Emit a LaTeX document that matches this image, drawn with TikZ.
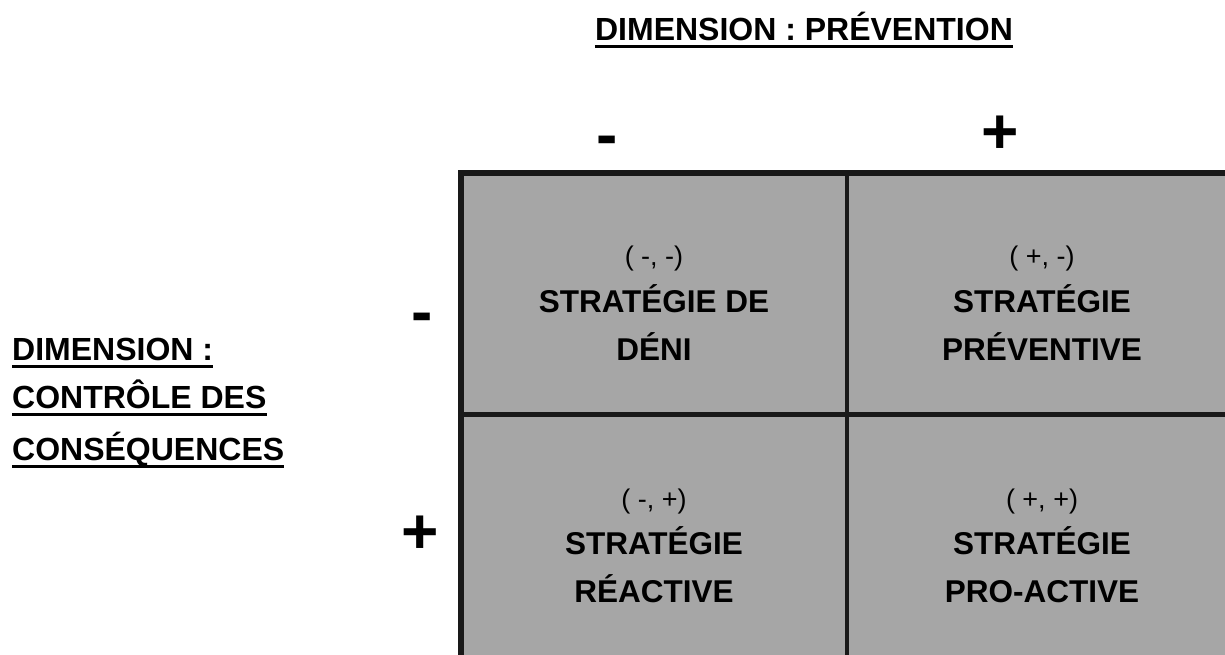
\documentclass[tikz,border=0pt]{standalone}
\usepackage{fontspec}
\setmainfont{Liberation Sans}
\definecolor{cellgray}{RGB}{166,166,166}
\definecolor{inkline}{RGB}{25,25,25}
\begin{document}
\begin{tikzpicture}[x=1pt,y=-1pt,
  lbl/.style={inner sep=0pt, font=\fontsize{32}{38}\selectfont\bfseries},
  celltxt/.style={inner sep=0pt, anchor=base, font=\fontsize{31.5}{38}\selectfont\bfseries},
  coordtxt/.style={inner sep=0pt, anchor=base, font=\fontsize{27}{32}\selectfont},
  signtxt/.style={inner sep=0pt, anchor=base, font=\fontsize{64}{70}\selectfont\bfseries},
  uline/.style={line width=3pt},
  gridline/.style={draw=inkline}]
\clip (0,0) rectangle (1225,655);
\fill[white] (0,0) rectangle (1225,655);
% grid
\fill[cellgray] (461,173) rectangle (1240,680);
\draw[gridline, line width=4pt] (847,173) -- (847,680);
\draw[gridline, line width=5pt] (461,414) -- (1240,414);
\draw[gridline, line width=6pt] (461,173) rectangle (1240,680);
% title
\node[lbl, anchor=base] (title) at (804,41) {DIMENSION : PRÉVENTION};
\draw[uline] ([yshift=-5.5pt]title.base west) -- ([yshift=-5.5pt]title.base east);
% left label
\node[lbl, anchor=base west] (l1) at (12,360) {DIMENSION :};
\node[lbl, anchor=base west] (l2) at (12,408) {CONTRÔLE DES};
\node[lbl, anchor=base west] (l3) at (12,460) {CONSÉQUENCES};
\foreach \n in {l1,l2,l3}
  \draw[uline] ([yshift=-6pt]\n.base west) -- ([yshift=-6pt]\n.base east);
% signs
\node[signtxt] (tm) at (607,157) {-};
\node[signtxt] (tp) at (1000,154) {+};
\node[signtxt] (lm) at (422,333) {-};
\node[signtxt] (lp) at (420,553) {+};
% cells
\node[coordtxt] (c1a) at (654,265) {( -, -)};
\node[celltxt] (c1b) at (654,312) {STRATÉGIE DE};
\node[celltxt] (c1c) at (654,360) {DÉNI};
\node[coordtxt] (c2a) at (1042,265) {( +, -)};
\node[celltxt] (c2b) at (1042,312) {STRATÉGIE};
\node[celltxt] (c2c) at (1042,360) {PRÉVENTIVE};
\node[coordtxt] (c3a) at (654,508) {( -, +)};
\node[celltxt] (c3b) at (654,554) {STRATÉGIE};
\node[celltxt] (c3c) at (654,602) {RÉACTIVE};
\node[coordtxt] (c4a) at (1042,508) {( +, +)};
\node[celltxt] (c4b) at (1042,554) {STRATÉGIE};
\node[celltxt] (c4c) at (1042,602) {PRO-ACTIVE};
\end{tikzpicture}
\end{document}
